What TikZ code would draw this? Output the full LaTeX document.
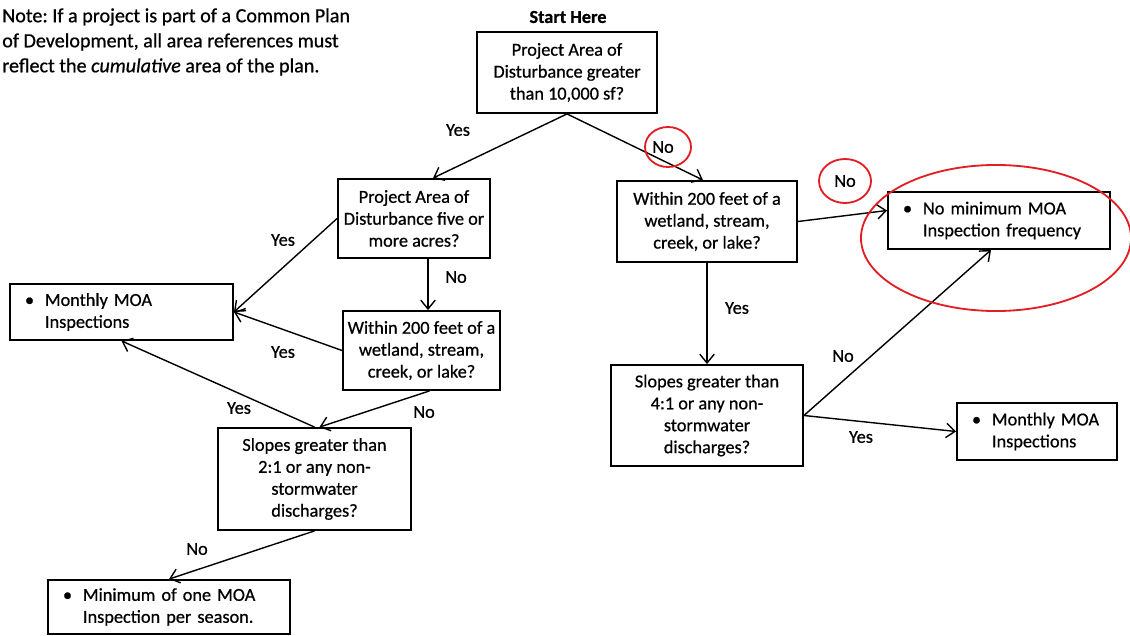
\documentclass[tikz,border=0pt]{standalone}
\usepackage{fontspec}
\setmainfont{Carlito}[RawFeature={embolden=0.7}]
\usetikzlibrary{arrows.meta}
\definecolor{ringred}{RGB}{226,30,36}
\tikzset{
  qbox/.style={draw, line width=1.3pt, align=center, inner sep=2pt},
  bbox/.style={draw, line width=1.3pt, align=left, inner xsep=0.375cm, inner ysep=2pt},
  arr/.style={-{Straight Barb[length=2.2mm,width=3.6mm]}, line width=1pt},
  lbl/.style={inner sep=1pt},
  ring/.style={draw=ringred, line width=1.3pt},
}
\newcommand{\bul}{\makebox[0.5cm][l]{\textbullet}}
\newcommand{\bulskip}{\hspace*{0.5cm}}
\frenchspacing

\begin{document}
\begin{tikzpicture}[x=0.025cm,y=-0.025cm,every node/.style={font=\fontsize{13}{15.6}\selectfont}]
  \useasboundingbox (0,0) rectangle (1130,636);

  % note and start
  \node[anchor=north west, align=left, inner sep=0pt, font=\fontsize{14.3}{17.8}\selectfont] (note) at (2,8)
    {Note: If a project is part of a Common Plan\\of Development, all area references must\\reflect the \emph{cumulative} area of the plan.};
  \node[font=\fontsize{13}{15.6}\selectfont\bfseries] (start) at (568,17) {Start Here};

  % questions
  \node[qbox, minimum width=4.5cm, minimum height=2.025cm] (area) at (567,72.5) {Project Area of\\Disturbance greater\\than 10,000 sf?};
  \node[qbox, minimum width=3.8cm, minimum height=1.975cm] (acres) at (414,218.5) {Project Area of\\Disturbance five or\\more acres?};
  \node[qbox, minimum width=3.925cm, minimum height=1.975cm] (wetl) at (421.5,350.5) {Within 200 feet of a\\wetland, stream,\\creek, or lake?};
  \node[qbox, minimum width=4.825cm, minimum height=2.55cm] (slopel) at (314.5,479) {Slopes greater than\\2:1 or any non-\\stormwater\\discharges?};
  \node[qbox, minimum width=4.5cm, minimum height=2.025cm] (wetr) at (707,221.5) {Within 200 feet of a\\wetland, stream,\\creek, or lake?};
  \node[qbox, minimum width=4.8cm, minimum height=2.525cm] (sloper) at (707,415.5) {Slopes greater than\\4:1 or any non-\\stormwater\\discharges?};

  % outcomes
  \node[bbox, text width=4.825cm, minimum height=1.4cm] (monthl) at (121.5,312) {\bul Monthly MOA\\\bulskip Inspections};
  \node[bbox, text width=5.3cm, minimum height=1.35cm] (season) at (169,607) {\bul Minimum of one MOA\\\bulskip Inspection per season.};
  \node[bbox, text width=4.8cm, minimum height=1.425cm] (nomin) at (999,220.5) {\bul No minimum MOA\\\bulskip Inspection frequency};
  \node[bbox, text width=3.25cm, minimum height=1.425cm] (monthr) at (1037,431.5) {\bul Monthly MOA\\\bulskip Inspections};

  % connectors
  \draw[arr] (area.south) -- ([xshift=0.475cm]acres.north);
  \draw[arr] (area.south) -- ([xshift=-0.1cm]wetr.north);
  \draw[arr] (acres.west) -- (monthl.east);
  \draw[arr] ([xshift=0.35cm]acres.south) -- ([xshift=0.35cm]acres.south |- wetl.north);
  \draw[arr] (wetl.west) -- (monthl.east);
  \draw[arr] ([xshift=0.2cm]wetl.south) -- ([xshift=0.125cm]slopel.north);
  \draw[arr] (slopel.north) -- (monthl.south);
  \draw[arr] (slopel.south) -- (season.north);
  \draw[arr] (wetr.south) -- (sloper.north);
  \draw[arr] (wetr.east) -- ([yshift=0.25cm]nomin.west);
  \draw[arr] (sloper.east) -- ([xshift=-0.2cm]nomin.south);
  \draw[arr] (sloper.east) -- (monthr.west);

  % labels
  \node[lbl] (y1) at (458,130) {Yes};
  \node[lbl] (n1) at (663,147) {No};
  \node[lbl] (n2) at (845,181) {No};
  \node[lbl] (y2) at (283,240) {Yes};
  \node[lbl] (n3) at (456,277) {No};
  \node[lbl] (y3) at (283,352) {Yes};
  \node[lbl] (y4) at (239,408) {Yes};
  \node[lbl] (n4) at (424,412) {No};
  \node[lbl] (n5) at (197,549) {No};
  \node[lbl] (y5) at (737,308) {Yes};
  \node[lbl] (n6) at (843,356) {No};
  \node[lbl] (y6) at (861,437) {Yes};

  % red marks
  \draw[ring] (668,147) ellipse (0.575cm and 0.5cm);
  \draw[ring] (845,181) ellipse (0.65cm and 0.55cm);
  \draw[ring] (996,238) ellipse (3.375cm and 1.825cm);
\end{tikzpicture}
\end{document}
